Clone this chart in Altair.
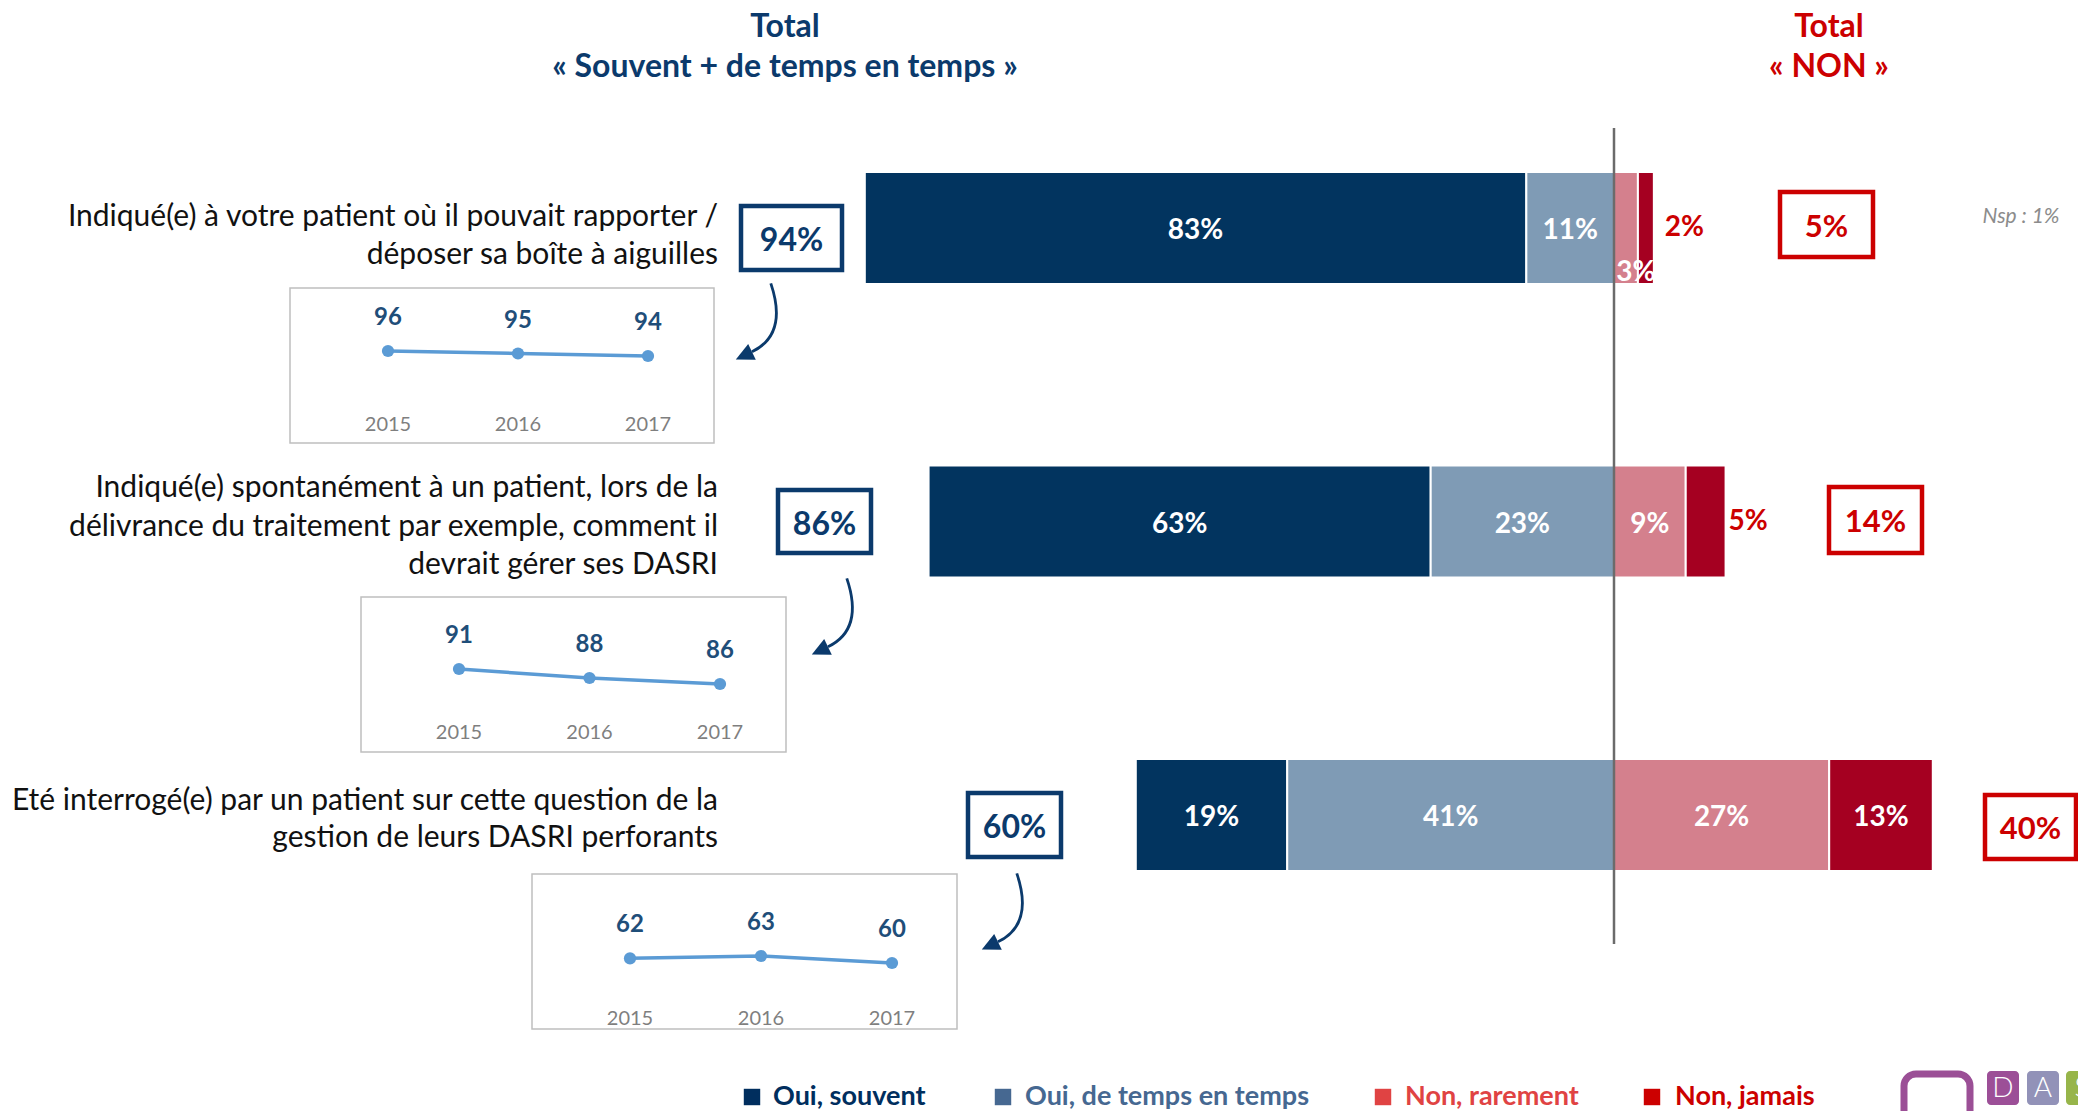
import altair as alt
import pandas as pd

# ---------------- data ----------------
question_keys = ["Q1", "Q2", "Q3"]
question_lines = [
    ["Indiqué(e) à votre patient où il pouvait rapporter /", "déposer sa boîte à aiguilles"],
    ["Indiqué(e) spontanément à un patient, lors de la",
     "délivrance du traitement par exemple, comment il", "devrait gérer ses DASRI"],
    ["Eté interrogé(e) par un patient sur cette question de la", "gestion de leurs DASRI perforants"],
]
categories = ["Oui, souvent", "Oui, de temps en temps", "Non, rarement", "Non, jamais"]
oui_souvent = [83, 63, 19]
oui_temps = [11, 23, 41]
non_rarement = [3, 9, 27]
non_jamais = [2, 5, 13]
total_oui = [94, 86, 60]
total_non = [5, 14, 40]
years = ["2015", "2016", "2017"]
trend_q1 = [96, 95, 94]
trend_q2 = [91, 88, 86]
trend_q3 = [62, 63, 60]
trends = [trend_q1, trend_q2, trend_q3]
title_left = ["Total", "« Souvent + de temps en temps »"]
title_right = ["Total", "« NON »"]
nsp_note = "Nsp : 1%"

# ---------------- styles ----------------
FONT = "Lato"
NAVY = "#0b3a6c"
RED = "#cc0000"
BAR_COLORS = ["#02345f", "#7f9bb5", "#d4808d", "#a50021"]
LEGEND_COLORS = ["#002e5e", "#466891", "#e04343", "#cc0000"]
LINE_BLUE = "#5b9bd5"


def P(v):
    """full-window pixel -> plot pixel (page margin 8px)"""
    return v - 8


# ---------------- layout (full-window px) ----------------
ZERO_X = 1614
PX_PER_PCT = 7.97
BAR_TOP, BAR_SPAN = 172, 699
ROW_LABEL_X = 718
ROW_LABEL_Y = [[217, 255], [488, 527, 565], [801, 838]]
BLUE_BOX = [(741, 206, 842, 270), (778, 490, 871, 553), (968, 793, 1061, 857)]
RED_BOX = [(1780, 192, 1873, 257), (1829, 487, 1922, 553), (1985, 795, 2076, 859)]
ARROW_C = [(754, 323), (830, 618), (1000, 913)]
MINI_FRAME = [(290, 288, 714, 443), (361, 597, 786, 752), (532, 874, 957, 1029)]
MINI_X = [(388, 648), (459, 720), (630, 892)]
MINI_Y = [(356, 351), (684, 669), (963, 956)]
YEAR_Y = [425, 733, 1019]
OUT_LABEL_DX = [11, 3, 3]
LEG_SQ_X = [752, 1003, 1383, 1652]
LEG_TX_X = [773, 1025, 1405, 1675]
LEG_Y = 1097

one = pd.DataFrame({"k": [0]})

XS = alt.Scale(domain=[-100, 60],
               range=[P(ZERO_X) - 100 * PX_PER_PCT, P(ZERO_X) + 60 * PX_PER_PCT],
               zero=False, nice=False)
YS = alt.Scale(type="band", domain=question_keys, range=[P(BAR_TOP), P(BAR_TOP) + BAR_SPAN],
               paddingInner=0.618, paddingOuter=0)

# ---------------- bar table ----------------
rows = []
for i, k in enumerate(question_keys):
    a, b, c, d = oui_souvent[i], oui_temps[i], non_rarement[i], non_jamais[i]
    for cat, s, e, v in [(categories[0], -(a + b), -b, a), (categories[1], -b, 0, b),
                         (categories[2], 0, c, c), (categories[3], c, c + d, d)]:
        rows.append(dict(q=k, cat=cat, start=s, end=e, mid=(s + e) / 2, v=v, label=f"{v}%"))
seg = pd.DataFrame(rows)

layers = []

bars = alt.Chart(seg).mark_bar(stroke="white", strokeWidth=2).encode(
    x=alt.X("start:Q", scale=XS, axis=None), x2="end:Q",
    y=alt.Y("q:N", scale=YS, axis=None),
    color=alt.Color("cat:N", scale=alt.Scale(domain=categories, range=BAR_COLORS), legend=None),
)
layers.append(bars)

center_rule = alt.Chart(pd.DataFrame({"zero": [0]})).mark_rule(color="#6b6b6b", strokeWidth=2.5).encode(
    x=alt.X("zero:Q", scale=XS, axis=None), y=alt.value(P(128)), y2=alt.value(P(944)))
layers.append(center_rule)

YB = alt.Y("q:N", scale=YS, axis=None, bandPosition=0.5)
inner = alt.Chart(seg).transform_filter("datum.v >= 9").mark_text(
    color="white", fontWeight="bold", fontSize=28, font=FONT, baseline="middle", dy=3).encode(
    x=alt.X("mid:Q", scale=XS, axis=None), y=YB, text="label:N")
small_in = alt.Chart(seg).transform_filter(
    "datum.v < 9 && datum.cat == 'Non, rarement'").mark_text(
    color="white", fontWeight="bold", fontSize=28, font=FONT, baseline="middle", dy=45, dx=10).encode(
    x=alt.X("mid:Q", scale=XS, axis=None), y=YB, text="label:N")
layers += [inner, small_in]
for i, k in enumerate(question_keys):
    layers.append(alt.Chart(seg).transform_filter(
        f"datum.v < 9 && datum.cat == 'Non, jamais' && datum.q == '{k}'").mark_text(
        color=RED, fontWeight="bold", fontSize=28, font=FONT, baseline="middle", align="left",
        dx=OUT_LABEL_DX[i], dy=0).encode(
        x=alt.X("end:Q", scale=XS, axis=None), y=YB, text="label:N"))

# ---------------- question labels ----------------
ql = []
for i, lines in enumerate(question_lines):
    for j, t in enumerate(lines):
        ql.append(dict(txt=t, ly=P(ROW_LABEL_Y[i][j])))
ql = pd.DataFrame(ql)
layers.append(alt.Chart(ql).mark_text(align="right", baseline="middle", fontSize=30, font=FONT,
                                      color="#111111").encode(
    x=alt.value(P(ROW_LABEL_X)), y=alt.Y("ly:Q", scale=None), text="txt:N"))

# ---------------- total boxes ----------------
def box_df(boxes, vals):
    r = []
    for (x1, y1, x2, y2), v in zip(boxes, vals):
        r.append(dict(x1=P(x1), y1=P(y1), x2=P(x2), y2=P(y2), cx=P((x1 + x2) / 2),
                      cy=P((y1 + y2) / 2), label=f"{v}%"))
    return pd.DataFrame(r)

for boxes, vals, col, fs in [(BLUE_BOX, total_oui, NAVY, 32), (RED_BOX, total_non, RED, 31)]:
    bd = box_df(boxes, vals)
    layers.append(alt.Chart(bd).mark_rect(fill="white", stroke=col, strokeWidth=4.5).encode(
        x=alt.X("x1:Q", scale=None), x2="x2:Q", y=alt.Y("y1:Q", scale=None), y2="y2:Q"))
    layers.append(alt.Chart(bd).mark_text(color=col, fontWeight="bold", fontSize=fs, font=FONT,
                                          baseline="middle", dy=3).encode(
        x=alt.X("cx:Q", scale=None), y=alt.Y("cy:Q", scale=None), text="label:N"))

# ---------------- arrows ----------------
CURVE = "M0.42,-0.99 C0.62,-0.4 0.72,0.35 -0.05,0.72"
HEAD = "M-0.455,0.91 L0.045,0.918 L-0.145,0.522 Z"
ad = pd.DataFrame([dict(ax=P(x), ay=P(y)) for x, y in ARROW_C])
layers.append(alt.Chart(ad).mark_point(shape=CURVE, filled=False, size=6400, strokeWidth=2.8,
                                       color=NAVY, opacity=1).encode(
    x=alt.X("ax:Q", scale=None), y=alt.Y("ay:Q", scale=None)))
layers.append(alt.Chart(ad).mark_point(shape=HEAD, filled=True, size=6400, color=NAVY, opacity=1,
                                       strokeWidth=0).encode(
    x=alt.X("ax:Q", scale=None), y=alt.Y("ay:Q", scale=None)))

# ---------------- mini trend charts ----------------
for i, tr in enumerate(trends):
    fx1, fy1, fx2, fy2 = MINI_FRAME[i]
    layers.append(alt.Chart(one).mark_rect(fill="white", stroke="#bfbfbf", strokeWidth=1.5).encode(
        x=alt.value(P(fx1)), x2=alt.value(P(fx2)), y=alt.value(P(fy1)), y2=alt.value(P(fy2))))
    md = pd.DataFrame({"year": years, "yr": [int(y) for y in years], "val": tr})
    mxs = alt.Scale(domain=[int(years[0]), int(years[-1])],
                    range=[P(MINI_X[i][0]), P(MINI_X[i][1])], zero=False, nice=False)
    mys = alt.Scale(domain=[min(tr), max(tr)], range=[P(MINI_Y[i][0]), P(MINI_Y[i][1])],
                    zero=False, nice=False)
    base = alt.Chart(md).encode(x=alt.X("yr:Q", scale=mxs, axis=None),
                                y=alt.Y("val:Q", scale=mys, axis=None))
    layers.append(base.mark_line(color=LINE_BLUE, strokeWidth=3.5))
    layers.append(base.mark_circle(color=LINE_BLUE, size=150, opacity=1))
    layers.append(base.mark_text(color="#1f4e79", fontWeight="bold", fontSize=24, font=FONT,
                                 baseline="middle", dy=-33).encode(text="val:Q"))
    layers.append(alt.Chart(md).mark_text(color="#7f7f7f", fontSize=20, font=FONT, baseline="middle").encode(
        x=alt.X("yr:Q", scale=mxs, axis=None), y=alt.value(P(YEAR_Y[i])), text="year:N"))

# ---------------- titles ----------------
for txt, cx, cy, col in [(title_left[0], 785, 27, NAVY), (title_left[1], 785, 67, NAVY),
                         (title_right[0], 1829, 27, RED), (title_right[1], 1829, 67, RED)]:
    layers.append(alt.Chart(one).mark_text(text=txt, color=col, fontWeight="bold", fontSize=32,
                                           font=FONT, baseline="middle").encode(
        x=alt.value(P(cx)), y=alt.value(P(cy))))

layers.append(alt.Chart(one).mark_text(text=nsp_note, color="#8c8c8c", fontStyle="italic", fontSize=21,
                                       font=FONT, baseline="middle").encode(
    x=alt.value(P(2021)), y=alt.value(P(217))))

# ---------------- legend ----------------
for i, cat in enumerate(categories):
    layers.append(alt.Chart(one).mark_square(color=LEGEND_COLORS[i], size=270, opacity=1).encode(
        x=alt.value(P(LEG_SQ_X[i])), y=alt.value(P(LEG_Y))))
    layers.append(alt.Chart(one).mark_text(text=cat, color=LEGEND_COLORS[i], fontWeight="bold",
                                           fontSize=27, font=FONT, align="left", baseline="middle").encode(
        x=alt.value(P(LEG_TX_X[i])), y=alt.value(P(LEG_Y))))

# ---------------- logo (decoration) ----------------
layers.append(alt.Chart(one).mark_rect(fill="white", stroke="#9b4f96", strokeWidth=7, cornerRadius=12).encode(
    x=alt.value(P(1904)), x2=alt.value(P(1970)), y=alt.value(P(1074)), y2=alt.value(P(1150))))
for (x1, x2, colr, letter) in [(1987, 2019, "#9c4f97", "D"), (2027, 2059, "#9292b8", "A"),
                               (2066, 2098, "#97b54a", "S")]:
    layers.append(alt.Chart(one).mark_rect(fill=colr, cornerRadius=4).encode(
        x=alt.value(P(x1)), x2=alt.value(P(x2)), y=alt.value(P(1071)), y2=alt.value(P(1105))))
    layers.append(alt.Chart(one).mark_text(text=letter, color="white", fontSize=28, font=FONT,
                                           fontWeight=300, baseline="middle").encode(
        x=alt.value(P((x1 + x2) / 2)), y=alt.value(P(1089))))

chart = alt.layer(*layers).resolve_scale(x="independent", y="independent").properties(
    width=2070, height=1103, autosize=alt.AutoSizeParams(type="none"), padding=0
).configure_view(stroke=None)

chart.save("out.html", embed_options={"renderer": "svg", "actions": False})
